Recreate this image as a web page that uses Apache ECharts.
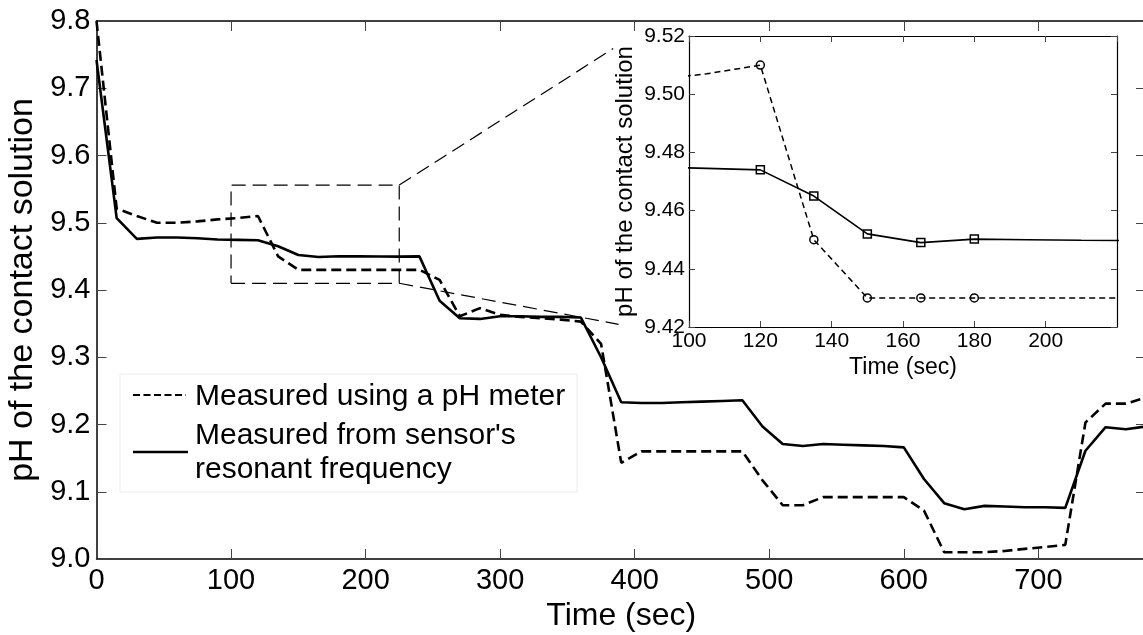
<!DOCTYPE html>
<html>
<head>
<meta charset="utf-8">
<script src="https://cdn.jsdelivr.net/npm/echarts@6/dist/echarts.min.js"></script>
<style>
html,body{margin:0;padding:0;background:#fff;}
#chart{width:1143px;height:635px;}
</style>
</head>
<body>
<div id="chart"></div>
<script>
// ---- Data (time in seconds, pH values) ----
const timeSec = [0,15,30,45,60,75,90,105,120,135,150,165,180,195,210,225,240,255,270,285,300,315,330,345,360,375,390,405,420,435,450,465,480,495,510,525,540,555,570,585,600,615,630,645,660,675,690,705,720,735,750,765,780];
const meterPH = [9.800,9.521,9.510,9.500,9.500,9.502,9.505,9.507,9.510,9.450,9.430,9.430,9.430,9.430,9.430,9.430,9.430,9.415,9.361,9.373,9.363,9.360,9.358,9.356,9.353,9.320,9.143,9.160,9.160,9.160,9.160,9.160,9.160,9.117,9.080,9.080,9.092,9.092,9.092,9.092,9.092,9.072,9.010,9.010,9.010,9.012,9.015,9.018,9.021,9.203,9.231,9.231,9.240];
const sensorPH = [9.742,9.507,9.476,9.478,9.478,9.477,9.475,9.4745,9.474,9.465,9.452,9.449,9.4502,9.450,9.4498,9.4497,9.450,9.384,9.358,9.357,9.361,9.361,9.360,9.360,9.359,9.300,9.233,9.232,9.232,9.233,9.234,9.235,9.236,9.197,9.171,9.168,9.171,9.170,9.169,9.168,9.166,9.119,9.083,9.074,9.079,9.078,9.077,9.077,9.076,9.161,9.196,9.193,9.197];
const insetMarkerTimes = [120,135,150,165,180];
// zoom box on the main axes and its connector lines (data coordinates)
const zoomBox = [[100,9.41],[225,9.41],[225,9.556],[100,9.556],[100,9.41]];
const connectorTop = [[225,9.556],[384,9.759]];
const connectorBottom = [[225,9.41],[388,9.349]];
const mainXTicks = {min:0,max:780,interval:100};
const mainYTicks = {min:9.0,max:9.8,interval:0.1};
const insetXTicks = {min:100,max:220,interval:20};
const insetYTicks = {min:9.42,max:9.52,interval:0.02};
const legendLabels = ["Measured using a pH meter","Measured from sensor's","resonant frequency"];
const xTitle = "Time (sec)";
const yTitle = "pH of the contact solution";

const meterData = timeSec.map((t,i)=>[t,meterPH[i]]);
const sensorData = timeSec.map((t,i)=>[t,sensorPH[i]]);

const FONT = "Liberation Sans, Arial, Helvetica, sans-serif";

function axisCommon(opts){
  return Object.assign({
    type:'value',
    axisLine:{show:true,onZero:false,lineStyle:{color:'#000',width:1.5}},
    splitLine:{show:false},
  }, opts);
}

const chart = echarts.init(document.getElementById('chart'), null, {renderer:'canvas'});
const option = {
  animation:false,
  backgroundColor:'#fff',
  grid:[
    {left:96.5, top:21, width:1049.5, height:538, containLabel:false, outerBoundsMode:'none'},
    {left:689, top:36, width:428, height:291, show:true, backgroundColor:'#fff', borderWidth:0, containLabel:false, outerBoundsMode:'none'}
  ],
  xAxis:[
    axisCommon({gridIndex:0, position:'bottom', min:mainXTicks.min, max:mainXTicks.max, interval:mainXTicks.interval,
      axisTick:{inside:true,length:10,lineStyle:{color:'#444',width:1}},
      axisLabel:{fontSize:29,color:'#000',fontFamily:FONT,margin:7,showMaxLabel:false},
      name:xTitle, nameLocation:'middle', nameGap:39, nameTextStyle:{fontSize:32,color:'#000',fontFamily:FONT}}),
    axisCommon({gridIndex:0, position:'top', min:mainXTicks.min, max:mainXTicks.max, interval:mainXTicks.interval,
      axisTick:{inside:true,length:10,lineStyle:{color:'#444',width:1}}, axisLabel:{show:false}}),
    axisCommon({gridIndex:1, position:'bottom', min:insetXTicks.min, max:insetXTicks.max, interval:insetXTicks.interval,
      axisLine:{show:true,onZero:false,lineStyle:{color:'#000',width:1.2}},
      axisTick:{inside:true,length:6,lineStyle:{color:'#444',width:1}},
      axisLabel:{fontSize:21,color:'#000',fontFamily:FONT,margin:4,showMaxLabel:false},
      name:xTitle, nameLocation:'middle', nameGap:29, nameTextStyle:{fontSize:23,color:'#000',fontFamily:FONT}}),
    axisCommon({gridIndex:1, position:'top', min:insetXTicks.min, max:insetXTicks.max, interval:insetXTicks.interval,
      axisLine:{show:true,onZero:false,lineStyle:{color:'#000',width:1.2}},
      axisTick:{inside:true,length:6,lineStyle:{color:'#444',width:1}}, axisLabel:{show:false}})
  ],
  yAxis:[
    axisCommon({gridIndex:0, position:'left', min:mainYTicks.min, max:mainYTicks.max, interval:mainYTicks.interval,
      axisTick:{inside:true,length:10,lineStyle:{color:'#444',width:1}},
      axisLabel:{fontSize:29,color:'#000',fontFamily:FONT,margin:6,formatter:v=>v.toFixed(1)},
      name:yTitle, nameLocation:'middle', nameGap:53, nameTextStyle:{fontSize:34,color:'#000',fontFamily:FONT}}),
    axisCommon({gridIndex:0, position:'right', min:mainYTicks.min, max:mainYTicks.max, interval:mainYTicks.interval,
      axisTick:{inside:true,length:10,lineStyle:{color:'#444',width:1}}, axisLabel:{show:false}}),
    axisCommon({gridIndex:1, position:'left', min:insetYTicks.min, max:insetYTicks.max, interval:insetYTicks.interval,
      axisLine:{show:true,onZero:false,lineStyle:{color:'#000',width:1.2}},
      axisTick:{inside:true,length:6,lineStyle:{color:'#444',width:1}},
      axisLabel:{fontSize:21,color:'#000',fontFamily:FONT,margin:4,formatter:v=>v.toFixed(2)},
      name:yTitle, nameLocation:'middle', nameGap:52, nameTextStyle:{fontSize:24,color:'#000',fontFamily:FONT}}),
    axisCommon({gridIndex:1, position:'right', min:insetYTicks.min, max:insetYTicks.max, interval:insetYTicks.interval,
      axisLine:{show:true,onZero:false,lineStyle:{color:'#000',width:1.2}},
      axisTick:{inside:true,length:6,lineStyle:{color:'#444',width:1}}, axisLabel:{show:false}})
  ],
  series:[
    {type:'line', xAxisIndex:0, yAxisIndex:0, data:zoomBox, showSymbol:false, silent:true,
      lineStyle:{color:'#000',width:1.2,type:[14,7]}},
    {type:'line', xAxisIndex:0, yAxisIndex:0, data:connectorTop, showSymbol:false, silent:true,
      lineStyle:{color:'#000',width:1.2,type:[14,7]}},
    {type:'line', xAxisIndex:0, yAxisIndex:0, data:connectorBottom, showSymbol:false, silent:true,
      lineStyle:{color:'#000',width:1.2,type:[14,7]}},
    {name:legendLabels[0], type:'line', xAxisIndex:0, yAxisIndex:0, data:meterData, showSymbol:false, silent:true,
      lineStyle:{color:'#000',width:2.6,type:[10,5]}},
    {name:legendLabels[1], type:'line', xAxisIndex:0, yAxisIndex:0, data:sensorData, showSymbol:false, silent:true,
      lineStyle:{color:'#000',width:2.6}},
    {type:'line', xAxisIndex:2, yAxisIndex:2, data:meterData, silent:true, clip:true,
      showSymbol:true, showAllSymbol:true,
      symbol:(v)=>insetMarkerTimes.indexOf(v[0])>=0?'circle':'none', symbolSize:8,
      itemStyle:{color:'rgba(0,0,0,0)',borderColor:'#000',borderWidth:1.5},
      lineStyle:{color:'#000',width:1.5,type:[6,4]}},
    {type:'line', xAxisIndex:2, yAxisIndex:2, data:sensorData, silent:true, clip:true,
      showSymbol:true, showAllSymbol:true,
      symbol:(v)=>insetMarkerTimes.indexOf(v[0])>=0?'rect':'none', symbolSize:8,
      itemStyle:{color:'rgba(0,0,0,0)',borderColor:'#000',borderWidth:1.5},
      lineStyle:{color:'#000',width:1.6}}
  ],
  graphic:[
    {type:'rect', shape:{x:120,y:374,width:457,height:118}, style:{fill:'#fff',stroke:'#ececec',lineWidth:1}, z:10},
    {type:'line', shape:{x1:133,y1:395,x2:186,y2:395}, style:{stroke:'#000',lineWidth:2.2,lineDash:[7,3.5]}, z:11},
    {type:'line', shape:{x1:133,y1:452,x2:188,y2:452}, style:{stroke:'#000',lineWidth:2.6}, z:11},
    {type:'text', x:195, y:397, style:{text:legendLabels[0],fontSize:30,fontFamily:FONT,fill:'#000',verticalAlign:'middle'}, z:11},
    {type:'text', x:195, y:436, style:{text:legendLabels[1],fontSize:30,fontFamily:FONT,fill:'#000',verticalAlign:'middle'}, z:11},
    {type:'text', x:195, y:470, style:{text:legendLabels[2],fontSize:30,fontFamily:FONT,fill:'#000',verticalAlign:'middle'}, z:11}
  ]
};
chart.setOption(option);
</script>
</body>
</html>
